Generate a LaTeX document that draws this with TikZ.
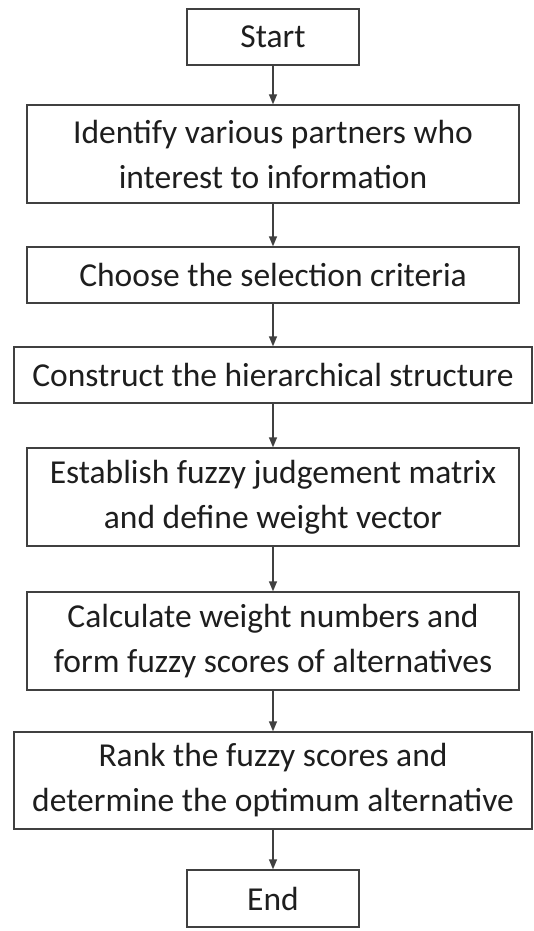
\documentclass[tikz,border=0pt]{standalone}
\usepackage{fontspec}
\setmainfont{Carlito}
\usetikzlibrary{arrows.meta}
\definecolor{linec}{HTML}{404040}
\definecolor{textc}{HTML}{1E1E1E}
\tikzset{
  box/.style={draw=linec, line width=1.4pt, rectangle, inner sep=0pt, align=center,
    text=textc, font=\fontsize{33.5}{45}\selectfont},
  conn/.style={draw=linec, line width=1.4pt, -{Triangle[width=8pt,length=10pt]}}
}
\begin{document}
\begin{tikzpicture}[x=1pt,y=-1pt]
\useasboundingbox (0,0) rectangle (533,931);
\fill[white] (0,0) rectangle (533,931);
\node[box, minimum width=172pt, minimum height=56pt] (start) at (273,37) {Start};
\node[box, minimum width=492pt, minimum height=98pt] (b2) at (273,154) {Identify various partners who\\interest to information};
\node[box, minimum width=492pt, minimum height=56pt] (b3) at (273,275) {Choose the selection criteria};
\node[box, minimum width=518pt, minimum height=56pt] (b4) at (273,375) {Construct the hierarchical structure};
\node[box, minimum width=492pt, minimum height=98pt] (b5) at (273,497) {Establish fuzzy judgement matrix\\and define weight vector};
\node[box, minimum width=492pt, minimum height=98pt] (b6) at (273,641) {Calculate weight numbers and\\form fuzzy scores of alternatives};
\node[box, minimum width=518pt, minimum height=97pt] (b7) at (273,780.5) {Rank the fuzzy scores and\\determine the optimum alternative};
\node[box, minimum width=172pt, minimum height=57pt] (end) at (273,898.5) {End};
\draw[conn] (start) -- (b2);
\draw[conn] (b2) -- (b3);
\draw[conn] (b3) -- (b4);
\draw[conn] (b4) -- (b5);
\draw[conn] (b5) -- (b6);
\draw[conn] (b6) -- (b7);
\draw[conn] (b7) -- (end);
\end{tikzpicture}
\end{document}
